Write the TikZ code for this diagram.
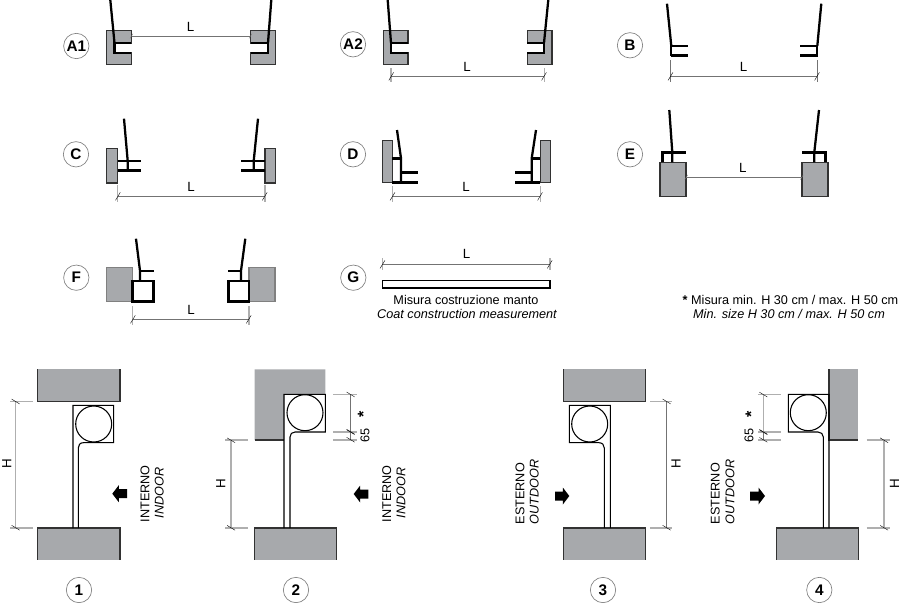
\documentclass[tikz,border=0pt]{standalone}
\usepackage{fontspec}
\setmainfont{Liberation Sans}
\usetikzlibrary{arrows.meta}

\definecolor{wallgray}{RGB}{167,169,172}
\definecolor{edgegray}{RGB}{50,50,50}
\definecolor{dimgray}{RGB}{115,115,115}
\definecolor{extgray}{RGB}{175,175,175}

\tikzset{
	every picture/.style={line width=0.75pt},
	wall/.style={draw=edgegray,fill=wallgray,line width=0.9pt},
	wallfill/.style={fill=wallgray,draw=none},
	walledge/.style={draw=edgegray,line width=1pt},
	blade/.style={draw=black,line width=1.7pt},
	profile/.style={draw=black,line width=2pt},
	rail/.style={draw=black,line width=0.8pt},
	dimline/.style={draw=dimgray,line width=0.6pt,{Bar[width=6pt,slant=0.6,color=black,line width=0.35pt]}-{Bar[width=6pt,slant=0.6,color=black,line width=0.35pt]}},
	dimshort/.style={draw=dimgray,line width=0.6pt,{Bar[width=3.5pt,slant=0.6,color=dimgray,line width=0.3pt]}-{Bar[width=3.5pt,slant=0.6,color=dimgray,line width=0.3pt]}},
	dimlight/.style={dimline,draw=extgray,line width=1pt},
	extline/.style={draw=extgray,line width=0.8pt},
	tag/.style={circle,draw=gray,line width=0.5pt,minimum size=19pt,inner sep=0pt,font=\fontsize{11.5}{13}\selectfont\bfseries},
	dimtext/.style={font=\fontsize{10}{12}\selectfont,inner sep=0pt},
	sidetext/.style={font=\fontsize{9.5}{11}\selectfont,inner sep=0pt,rotate=90},
	sideital/.style={sidetext,font=\fontsize{9.5}{11}\selectfont\itshape},
	startext/.style={sidetext,font=\fontsize{12}{13}\selectfont\bfseries},
	notetext/.style={font=\fontsize{9.5}{11}\selectfont,inner sep=0pt},
	noteital/.style={notetext,font=\fontsize{9.5}{11}\selectfont\itshape},
}

\begin{document}
\begin{tikzpicture}[x=0.75pt,y=0.75pt,yscale=-1,xscale=1]
	\useasboundingbox (0,0) rectangle (900,603);

	%Shape: A1
	\draw [wall] (106.7,30.7) -- (131.3,30.7) -- (131.3,43) -- (114.5,43) -- (114.5,53) -- (131.3,53) -- (131.3,64.7) -- (106.7,64.7) -- cycle ;
	\draw [wall] (275.3,30.7) -- (250.7,30.7) -- (250.7,43) -- (268,43) -- (268,53) -- (250.7,53) -- (250.7,64.7) -- (275.3,64.7) -- cycle ;
	\draw [profile] (131.3,43) -- (114.5,43) -- (114.5,53) -- (131.3,53) ;
	\draw [profile] (250.7,43) -- (268,43) -- (268,53) -- (250.7,53) ;
	\draw [blade] (110.3,0) -- (114.5,43) ;
	\draw [blade] (271.3,0) -- (268,43) ;
	\draw [dimshort] (131.3,36) -- (250.7,36) ;

	%Shape: A2
	\draw [wall] (383.3,30.7) -- (408,30.7) -- (408,43) -- (391,43) -- (391,53) -- (408,53) -- (408,64.7) -- (383.3,64.7) -- cycle ;
	\draw [wall] (552,30.7) -- (527.3,30.7) -- (527.3,43) -- (544,43) -- (544,53) -- (527.3,53) -- (527.3,64.7) -- (552,64.7) -- cycle ;
	\draw [profile] (408,43) -- (391,43) -- (391,53) -- (408,53) ;
	\draw [profile] (527.3,43) -- (544,43) -- (544,53) -- (527.3,53) ;
	\draw [blade] (387.7,0) -- (391,43) ;
	\draw [blade] (548.3,0) -- (544,43) ;
	\draw [extline] (391,68) -- (391,82) ;
	\draw [extline] (544.3,68) -- (544.3,82) ;
	\draw [dimline] (391,76.3) -- (544.3,76.3) ;

	%Shape: B
	\draw [blade] (667,3.7) -- (671.3,46) ;
	\draw [blade] (821.3,3.7) -- (817.3,46) ;
	\draw [blade] (671.3,46) -- (671.3,55.7) ;
	\draw [blade] (817.3,46) -- (817.3,55.7) ;
	\draw [draw=black,line width=1.2pt] (671.3,46) -- (688,46) ;
	\draw [draw=black,line width=1.2pt] (817.3,46) -- (800,46) ;
	\draw [profile] (670.5,55.7) -- (688,55.7) ;
	\draw [profile] (818,55.7) -- (800,55.7) ;
	\draw [extline,draw=dimgray,line width=0.5pt] (670.3,60) -- (670.3,82) ;
	\draw [extline,draw=dimgray,line width=0.5pt] (817.3,60) -- (817.3,82) ;
	\draw [dimline] (670.3,76.3) -- (817.3,76.3) ;

	%Shape: C
	\draw [wall] (106.7,148.7) rectangle (117.7,183) ;
	\draw [wall] (265,148.7) rectangle (275.3,183) ;
	\draw [profile] (117.7,161) -- (141,161) ;
	\draw [profile] (117.7,170.7) -- (141,170.7) ;
	\draw [profile] (265,161) -- (241,161) ;
	\draw [profile] (265,170.7) -- (241,170.7) ;
	\draw [blade] (124,118.7) -- (127.7,161) -- (127.7,170.7) ;
	\draw [blade] (258,118.7) -- (253.7,161) -- (253.7,170.7) ;
	\draw [extline] (117.7,185) -- (117.7,202) ;
	\draw [extline] (265,185) -- (265,202) ;
	\draw [dimline] (117.7,196.3) -- (265,196.3) ;

	%Shape: D
	\draw [wall] (382.3,140.7) rectangle (392.3,182.7) ;
	\draw [wall] (540.3,140.7) rectangle (550.3,182.7) ;
	\draw [profile] (392.3,158.3) -- (401,158.3) ;
	\draw [profile] (540.3,158.3) -- (531.7,158.3) ;
	\draw [blade] (397,130) -- (401,158.3) -- (401,182.3) ;
	\draw [blade] (536,130) -- (531.7,158.3) -- (531.7,182.3) ;
	\draw [profile] (401,172.3) -- (417.7,172.3) ;
	\draw [profile] (392.3,182.3) -- (417.7,182.3) ;
	\draw [profile] (531.7,172.3) -- (515,172.3) ;
	\draw [profile] (540.3,182.3) -- (515,182.3) ;
	\draw [extline] (392.3,186) -- (392.3,202) ;
	\draw [extline] (540.3,186) -- (540.3,202) ;
	\draw [dimline] (392.3,196.3) -- (540.3,196.3) ;

	%Shape: E
	\draw [wall] (660,162.3) rectangle (686,196.3) ;
	\draw [wall] (802,162.3) rectangle (828,196.3) ;
	\draw [profile] (662.3,162.3) -- (662.3,152.3) -- (686,152.3) ;
	\draw [profile] (825.7,162.3) -- (825.7,152.3) -- (801.7,152.3) ;
	\draw [blade] (669.3,110) -- (672.3,152.3) -- (672.3,162.3) ;
	\draw [blade] (819,110) -- (814.3,152.3) -- (814.3,162.3) ;
	\draw [dimshort] (686,177.3) -- (802,177.3) ;

	%Shape: F
	\draw [wall,draw=gray] (106.7,267.7) rectangle (132.7,301.7) ;
	\draw [wall,draw=gray] (249,267.7) rectangle (275,301.7) ;
	\draw [profile,fill=white] (132.7,281) rectangle (153.3,301.7) ;
	\draw [profile,fill=white] (228.3,281) rectangle (249,301.7) ;
	\draw [blade] (136,238.7) -- (140,270.7) -- (140,281) ;
	\draw [blade] (245.3,238.7) -- (241,270.7) -- (241,281) ;
	\draw [draw=black,line width=1.3pt] (140,270.7) -- (154,270.7) ;
	\draw [draw=black,line width=1.3pt] (241,270.7) -- (227.7,270.7) ;
	\draw [extline] (132.7,306) -- (132.7,325) ;
	\draw [extline] (249,306) -- (249,325) ;
	\draw [dimline] (132.7,319.3) -- (249,319.3) ;

	%Shape: G
	\draw [draw=black,line width=1pt] (382.3,280.3) rectangle (550,288) ;
	\draw [extline] (382.3,258) -- (382.3,270) ;
	\draw [extline] (550,258) -- (550,270) ;
	\draw [dimline] (382.3,264.3) -- (550,264.3) ;

	%Shape: section 1
	\fill [wallfill] (37.7,369.3) rectangle (120,401.3) ;
	\fill [wallfill] (37.7,528) rectangle (120,559.7) ;
	\draw [walledge] (37.7,369.3) -- (37.7,401.3) -- (120,401.3) -- (120,369.3) ;
	\draw [walledge] (37.7,559.7) -- (37.7,528) -- (120,528) -- (120,559.7) ;
	\draw [rail] (73,528) -- (73,405.3) -- (113.7,405.3) -- (113.7,442.7) -- (83.3,442.7) .. controls (80,442.7) and (78.3,445) .. (78.3,448) -- (78.3,528) ;
	\draw [rail] (93.7,424) circle (18) ;
	\draw [extline] (10,401.3) -- (32.7,401.3) ;
	\draw [extline] (10,528) -- (32.7,528) ;
	\draw [dimlight] (15.7,401.3) -- (15.7,528) ;
	\fill [shift={(112.3,493.7)}] (0,0) -- (6.5,-8.5) -- (6.5,-4.5) -- (14.7,-4.5) -- (14.7,4.5) -- (6.5,4.5) -- (6.5,8.5) -- cycle ;

	%Shape: section 2
	\fill [wallfill] (254.7,369.3) -- (325.3,369.3) -- (325.3,394.3) -- (284,394.3) -- (284,440) -- (254.7,440) -- cycle ;
	\fill [wallfill] (254.7,528) rectangle (336.7,559.7) ;
	\draw [walledge] (254.7,440) -- (284,440) ;
	\draw [walledge] (254.7,559.7) -- (254.7,528) -- (336.7,528) -- (336.7,559.7) ;
	\draw [rail] (284,528) -- (284,394.3) -- (325.3,394.3) -- (325.3,432) -- (295,432) .. controls (292,432) and (290,434) .. (290,437) -- (290,528) ;
	\draw [rail] (305,412.7) circle (18) ;
	\draw [extline] (225,440) -- (248,440) ;
	\draw [extline] (225,528) -- (248,528) ;
	\draw [dimlight] (231,440) -- (231,528) ;
	\draw [extline] (333.3,394.3) -- (356.7,394.3) ;
	\draw [extline] (333.3,432) -- (356.7,432) ;
	\draw [extline] (333.3,440) -- (356.7,440) ;
	\draw [dimline] (350.7,394.3) -- (350.7,432) ;
	\draw [dimline] (350.7,432) -- (350.7,440) ;
	\fill [shift={(353.7,494)}] (0,0) -- (6.5,-8.5) -- (6.5,-4.5) -- (14.7,-4.5) -- (14.7,4.5) -- (6.5,4.5) -- (6.5,8.5) -- cycle ;

	%Shape: section 3
	\fill [wallfill] (563.3,369.3) rectangle (645.7,401.3) ;
	\fill [wallfill] (563.3,528) rectangle (645.7,559.7) ;
	\draw [walledge] (563.3,369.3) -- (563.3,401.3) -- (645.7,401.3) -- (645.7,369.3) ;
	\draw [walledge] (563.3,559.7) -- (563.3,528) -- (645.7,528) -- (645.7,559.7) ;
	\draw [rail] (610.3,528) -- (610.3,405.3) -- (569.3,405.3) -- (569.3,442.7) -- (599,442.7) .. controls (602.3,442.7) and (604.3,445) .. (604.3,448) -- (604.3,528) ;
	\draw [rail] (589.7,424) circle (18) ;
	\draw [extline] (650,401.3) -- (672,401.3) ;
	\draw [extline] (650,528) -- (672,528) ;
	\draw [dimline] (666.7,401.3) -- (666.7,528) ;
	\fill [shift={(569.3,496)},xscale=-1] (0,0) -- (6.5,-8.5) -- (6.5,-4.5) -- (14.3,-4.5) -- (14.3,4.5) -- (6.5,4.5) -- (6.5,8.5) -- cycle ;

	%Shape: section 4
	\fill [wallfill] (829,369.3) rectangle (858.3,440) ;
	\fill [wallfill] (776.7,528) rectangle (858.3,559.7) ;
	\draw [walledge] (829,369.3) -- (829,440) -- (858.3,440) ;
	\draw [walledge] (776.7,559.7) -- (776.7,528) -- (858.3,528) -- (858.3,559.7) ;
	\draw [rail] (829,528) -- (829,394.3) -- (788.3,394.3) -- (788.3,432) -- (818,432) .. controls (821,432) and (823.3,434) .. (823.3,437) -- (823.3,528) ;
	\draw [rail] (808.3,412.7) circle (18) ;
	\draw [extline] (866.7,440) -- (890,440) ;
	\draw [extline] (866.7,528) -- (890,528) ;
	\draw [dimlight] (884,440) -- (884,528) ;
	\draw [extline] (758.3,394.3) -- (781,394.3) ;
	\draw [extline] (758.3,432) -- (781,432) ;
	\draw [extline,line width=1.2pt] (758.3,440) -- (781,440) ;
	\draw [dimlight] (763.3,394.3) -- (763.3,432) ;
	\draw [dimline] (763.3,432) -- (763.3,440) ;
	\fill [shift={(765,496)},xscale=-1] (0,0) -- (6.5,-8.5) -- (6.5,-4.5) -- (15,-4.5) -- (15,4.5) -- (6.5,4.5) -- (6.5,8.5) -- cycle ;

	% Text Node
	\node [tag] (tagAone) at (76.3,46) {A1};
	\node [tag] (tagAtwo) at (353,44.3) {A2};
	\node [tag] (tagB) at (630,45.3) {B};
	\node [tag] (tagC) at (76,154.3) {C};
	\node [tag] (tagD) at (353,154.3) {D};
	\node [tag] (tagE) at (630,154.3) {E};
	\node [tag] (tagF) at (76.3,277.7) {F};
	\node [tag] (tagG) at (353.3,277.7) {G};
	\node [tag] (tagOne) at (79,590) {1};
	\node [tag] (tagTwo) at (296,590) {2};
	\node [tag] (tagThree) at (603,590) {3};
	\node [tag] (tagFour) at (819.3,590) {4};
	% Text Node
	\node [dimtext] (lenAone) at (190.5,27) {L};
	\node [dimtext] (lenAtwo) at (467,66.7) {L};
	\node [dimtext] (lenB) at (743.5,66.7) {L};
	\node [dimtext] (lenC) at (191,186.5) {L};
	\node [dimtext] (lenD) at (466,186.5) {L};
	\node [dimtext] (lenE) at (742.7,168) {L};
	\node [dimtext] (lenF) at (191,309.5) {L};
	\node [dimtext] (lenG) at (466.5,253.5) {L};
	% Text Node
	\node [notetext] (coatIt) at (466,300) {Misura costruzione manto};
	\node [noteital] (coatEn) at (467,313.5) {Coat construction measurement};
	\node [notetext] (sizeIt) at (790.5,300) {{\bfseries *} Misura min. H 30 cm / max. H 50 cm};
	\node [noteital] (sizeEn) at (789,314) {Min. size H 30 cm / max. H 50 cm};
	% Text Node
	\node [dimtext,rotate=90] (heightOne) at (6.9,464) {H};
	\node [dimtext,rotate=90] (heightTwo) at (220.7,484) {H};
	\node [dimtext,rotate=90] (heightThree) at (676,464) {H};
	\node [dimtext,rotate=90] (heightFour) at (894.5,484) {H};
	\node [startext] (starTwo) at (363.3,414) {*};
	\node [sidetext] (lipTwo) at (365,435) {65};
	\node [startext] (starFour) at (751,414) {*};
	\node [sidetext] (lipFour) at (749,435) {65};
	% Text Node
	\node [sidetext] (inOne) at (145,493.7) {INTERNO};
	\node [sideital] (inOneEn) at (159.3,493) {INDOOR};
	\node [sidetext] (inTwo) at (386.7,493.7) {INTERNO};
	\node [sideital] (inTwoEn) at (401,493) {INDOOR};
	\node [sidetext] (outThree) at (520,493.7) {ESTERNO};
	\node [sideital] (outThreeEn) at (534.3,492) {OUTDOOR};
	\node [sidetext] (outFour) at (715.3,493.7) {ESTERNO};
	\node [sideital] (outFourEn) at (730,492) {OUTDOOR};

\end{tikzpicture}
\end{document}
